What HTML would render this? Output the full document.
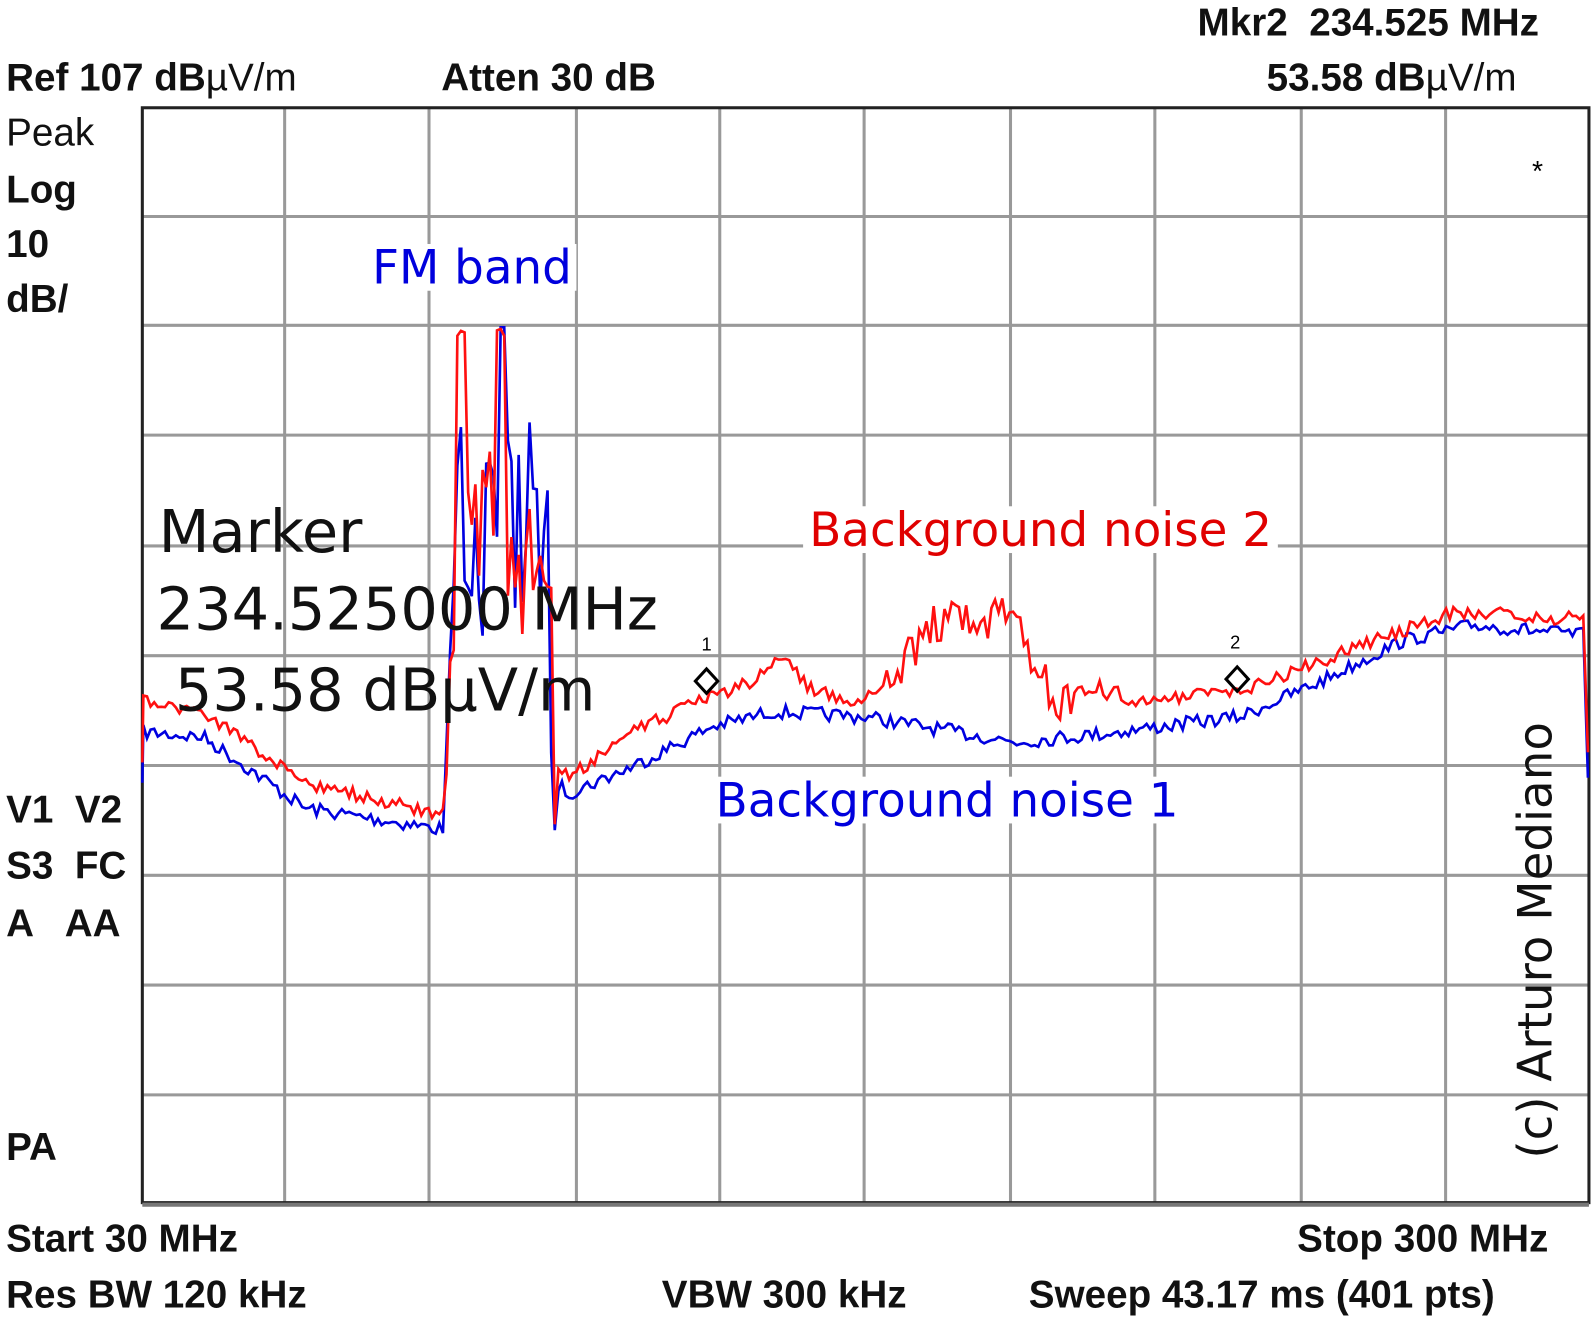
<!DOCTYPE html>
<html><head><meta charset="utf-8"><style>
html,body{margin:0;padding:0;background:#fff;}
body{width:1594px;height:1319px;position:relative;overflow:hidden;}
#w{position:absolute;left:0;top:0;width:1568px;height:1298px;transform-origin:0 0;transform:scale(1.0166);}
.t{position:absolute;font-family:"Liberation Sans Narrow","Liberation Sans",sans-serif;font-weight:bold;color:#111;font-size:38px;white-space:nowrap;line-height:1;}
.n{font-weight:normal;}
.d{position:absolute;font-family:"DejaVu Sans",sans-serif;white-space:nowrap;line-height:1;background:#fff;}
</style></head><body><div id="w">
<svg width="1594" height="1319" style="position:absolute;left:0;top:0">
<g stroke="#999" stroke-width="3" fill="none" id="grid"></g>
<rect x="140" y="106" width="1423" height="1077" fill="none" stroke="#222" stroke-width="3"/>
<line x1="140" y1="1185" x2="1563" y2="1185" stroke="#777" stroke-width="4"/>
<polyline id="blue" fill="none" stroke="#0000e0" stroke-width="2.6"/>
<polyline id="red" fill="none" stroke="#ff1010" stroke-width="2.6"/>
<g fill="none" stroke="#000" stroke-width="3">
<path d="M695 658 L706 670 L695 682 L684 670 Z"/>
<path d="M1217 656 L1228 668 L1217 680 L1206 668 Z"/>
</g>
<text x="690" y="640" font-family="Liberation Sans" font-size="18">1</text>
<text x="1210" y="638" font-family="Liberation Sans" font-size="18">2</text>
<text x="1507" y="178" font-family="Liberation Sans" font-size="28">*</text>
</svg>
<div class="t" style="left:1178px;top:4px">Mkr2&nbsp; 234.525 MHz</div>
<div class="t" style="left:6px;top:58px">Ref 107 dB<span class="n">µV/m</span></div>
<div class="t" style="left:434px;top:58px">Atten 30 dB</div>
<div class="t" style="left:1246px;top:58px">53.58 dB<span class="n">µV/m</span></div>
<div class="t n" style="left:6px;top:112px">Peak</div>
<div class="t" style="left:6px;top:168px">Log</div>
<div class="t" style="left:6px;top:222px">10</div>
<div class="t" style="left:6px;top:276px">dB/</div>
<div class="t" style="left:6px;top:778px">V1&nbsp; V2</div>
<div class="t" style="left:6px;top:833px">S3&nbsp; FC</div>
<div class="t" style="left:6px;top:890px">A&nbsp;&nbsp; AA</div>
<div class="t" style="left:6px;top:1110px">PA</div>
<div class="t" style="left:6px;top:1200px">Start 30 MHz</div>
<div class="t" style="left:1276px;top:1200px">Stop 300 MHz</div>
<div class="t" style="left:6px;top:1255px">Res BW 120 kHz</div>
<div class="t" style="left:651px;top:1255px">VBW 300 kHz</div>
<div class="t" style="left:1012px;top:1255px">Sweep 43.17 ms (401 pts)</div>
<div class="d" style="left:362px;top:240px;font-size:46px;color:#0000dd;padding:0 4px">FM band</div>
<div class="d" style="left:790px;top:498px;font-size:46px;color:#e00000;padding:0 6px">Background noise 2</div>
<div class="d" style="left:698px;top:764px;font-size:46px;color:#0000dd;padding:0 6px">Background noise 1</div>
<div class="d" style="left:156px;top:494px;font-size:58px;color:#111;background:none">Marker</div>
<div class="d" style="left:154px;top:570px;font-size:58px;color:#111;background:none">234.525000 MHz</div>
<div class="d" style="left:172px;top:650px;font-size:58px;color:#111;background:none">53.58 dBµV/m</div>
<div class="d" style="left:1510px;top:925px;font-size:46px;color:#111;background:none;transform:translate(-50%,-50%) rotate(-90deg)">(c) Arturo Mediano</div>
</div>
<script>
var g=document.getElementById('grid'),s='';
[280,422,567,708,850,994,1136,1280,1422].forEach(function(x){s+='<line x1="'+x+'" y1="106" x2="'+x+'" y2="1183"/>';});
[213,320,428,537,645,753,861,969,1077].forEach(function(y){s+='<line x1="140" y1="'+y+'" x2="1563" y2="'+y+'"/>';});
g.innerHTML=s;
var seed=7;function r(){seed=(seed*16807)%2147483647;return seed/2147483647-0.5;}
function interp(a,x){for(var i=0;i<a.length-1;i++){if(x<=a[i+1][0]){var t=(x-a[i][0])/(a[i+1][0]-a[i][0]);return a[i][1]+t*(a[i+1][1]-a[i][1]);}}return a[a.length-1][1];}
function build(base,noise,fm,end){var p=['140,'+end[0]];for(var x=141;x<=1560;x+=3.55){var y;
 if(x>437&&x<546){y=fm(x);}else{y=interp(base,x)+r()*interp(noise,x);}
 p.push(x.toFixed(1)+','+y.toFixed(1));}
 p.push('1562,'+end[1]);return p.join(' ');}
var redB=[[140,690],[200,700],[300,770],[430,800],[437,800],[546,755],[560,765],[620,720],[700,685],[740,670],[770,645],[800,680],[850,690],[880,660],[920,610],[960,620],[990,605],[1010,640],[1040,690],[1080,680],[1130,690],[1220,680],[1300,650],[1380,620],[1430,602],[1500,605],[1560,610]];
var redN=[[140,12],[870,14],[880,45],[1040,45],[1060,25],[1130,14],[1560,14]];
var bluB=[[140,720],[200,725],[300,795],[430,815],[437,815],[546,770],[560,780],[620,755],[700,715],[760,700],[850,705],[1000,730],[1100,720],[1220,705],[1300,670],[1380,630],[1450,615],[1560,625]];
var bluN=[[140,14],[1560,14]];
function fmR(x){var pk=[[452,320],[493,320]];for(var k=0;k<pk.length;k++)if(Math.abs(x-pk[k][0])<5)return 322+Math.abs(r())*20;var top=interp([[437,700],[445,420],[470,420],[515,430],[540,500],[546,700]],x);return top+Math.abs(r())*2*320*(0.3+Math.abs(r()));}
function fmB(x){if(Math.abs(x-495)<4)return 322;var top=interp([[437,720],[445,400],[470,430],[500,380],[525,400],[540,490],[546,720]],x);return top+Math.abs(r())*2*300*(0.3+Math.abs(r()));}
document.getElementById('blue').setAttribute('points',build(bluB,bluN,fmB,[770,765]));
seed=99;
document.getElementById('red').setAttribute('points',build(redB,redN,fmR,[750,740]));
</script>
</body></html>
